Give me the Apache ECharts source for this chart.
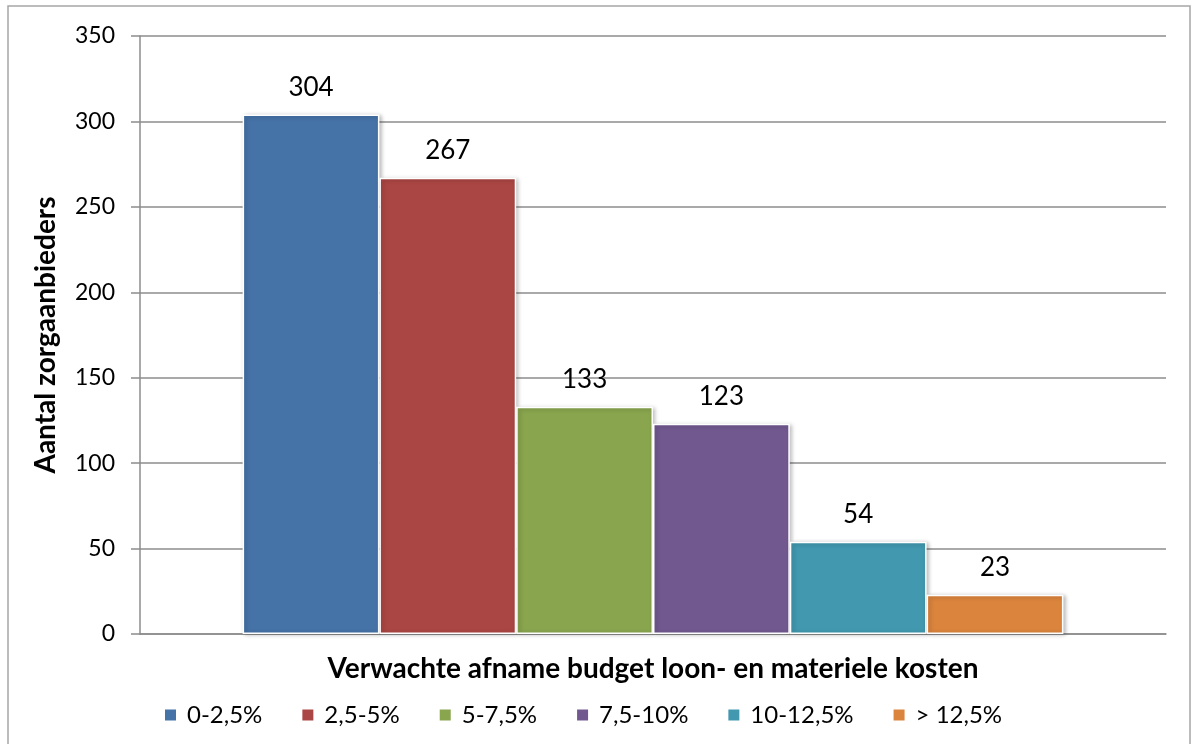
<!DOCTYPE html>
<html><head><meta charset="utf-8">
<script src="https://cdn.jsdelivr.net/npm/echarts@6/dist/echarts.min.js"></script>
<style>html,body{margin:0;padding:0;background:#fff}#c{width:1194px;height:744px}</style>
</head><body><div id="c"></div>
<script>
const seriesNames = ['0-2,5%', '2,5-5%', '5-7,5%', '7,5-10%', '10-12,5%', '> 12,5%'];
const values = [304, 267, 133, 123, 54, 23];
const colors = ['#4572A7', '#AA4643', '#89A54E', '#71588F', '#4198AF', '#DB843D'];
const categories = [''];
const yMax = 350, yInterval = 50;
const font = 'Lato, "Open Sans", sans-serif';

const chart = echarts.init(document.getElementById('c'));
chart.setOption({
  animation: false,
  textStyle: {fontFamily: font},
  graphic: [{type: 'rect', shape: {x: 8, y: 6, width: 1182, height: 740}, style: {fill: 'none', stroke: '#a6a6a6', lineWidth: 1.5}, z: -1}],
  grid: {left: 140, right: 28, top: 36, bottom: 110},
  legend: {
    bottom: 12, left: 158, itemWidth: 13, itemHeight: 13, itemGap: 38, icon: 'rect',
    textStyle: {fontSize: 24, color: '#000', fontFamily: font, padding: [0, 0, 0, 5]},
    data: seriesNames
  },
  xAxis: {
    type: 'category', data: categories,
    name: 'Verwachte afname budget loon- en materiele kosten', nameLocation: 'middle', nameGap: 21,
    nameTextStyle: {fontSize: 28, fontWeight: 'bold', color: '#000', fontFamily: font},
    axisLine: {lineStyle: {color: '#8c8c8c', width: 1.5}}, axisTick: {show: false}, axisLabel: {show: false}
  },
  yAxis: {
    type: 'value', min: 0, max: yMax, interval: yInterval,
    name: 'Aantal zorgaanbieders', nameLocation: 'middle', nameGap: 80,
    nameTextStyle: {fontSize: 28, fontWeight: 'bold', color: '#000', fontFamily: font},
    axisLine: {show: true, lineStyle: {color: '#8c8c8c', width: 1.5}},
    axisTick: {show: true, inside: false, length: 9, lineStyle: {color: '#8c8c8c', width: 1.5}},
    axisLabel: {fontSize: 23, color: '#000', margin: 25, fontFamily: font},
    splitLine: {lineStyle: {color: '#8c8c8c', width: 1.5}}
  },
  series: seriesNames.map((n, i) => ({
    type: 'bar', name: n, data: [values[i]],
    barGap: '0%', barCategoryGap: '20%',
    itemStyle: {color: colors[i], borderColor: '#fff', borderWidth: 1.5,
      shadowColor: 'rgba(0,0,0,0.25)', shadowBlur: 4, shadowOffsetX: 2, shadowOffsetY: 1},
    label: {show: true, position: 'top', distance: 14, fontSize: 26, color: '#000', fontFamily: font}
  }))
});
</script></body></html>
